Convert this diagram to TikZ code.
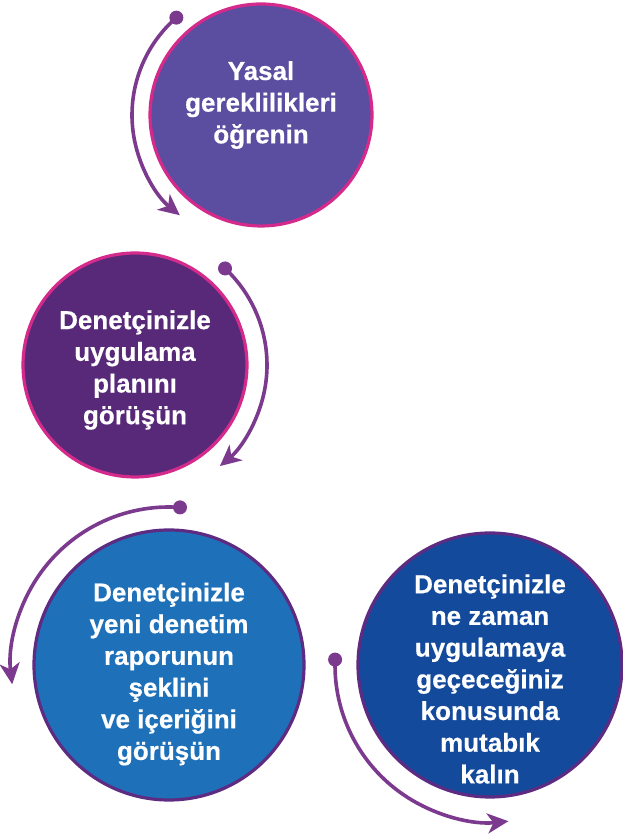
\documentclass[tikz,border=0pt]{standalone}
\usepackage{fontspec}
\setmainfont{Liberation Sans}[BoldFeatures={FakeBold=0.5}]
\usetikzlibrary{calc,arrows.meta}
\definecolor{lilac_fill}{HTML}{5B4DA0}
\definecolor{plum_fill}{HTML}{582978}
\definecolor{sky_fill}{HTML}{1E71B9}
\definecolor{navy_fill}{HTML}{134A9B}
\definecolor{pink_rim}{HTML}{D42A8B}
\definecolor{purple_rim}{HTML}{5E2B82}
\definecolor{arrow_purple}{HTML}{7C3A8F}

\begin{document}
\begin{tikzpicture}[x=1pt,y=1pt,>={Stealth[length=21pt,width=20pt,inset=6pt]},
    disc/.style={circle,draw,line width=3.2pt,minimum size=#1,inner sep=0pt},
    lbl/.style={text=white,align=center,font=\bfseries\fontsize{26}{31.7}\selectfont},
    turn/.style={arrow_purple,line width=3.6pt,->},
    knob/.style={circle,fill=arrow_purple,inner sep=0pt,minimum size=14pt}]

    \useasboundingbox (0,0) rectangle (623,837);

    % Les quatre disques
    \node[disc=222,fill=lilac_fill,draw=pink_rim] (c1) at (261,722) {};
    \node[disc=224,fill=plum_fill,draw=pink_rim] (c2) at (135,472) {};
    \node[disc=270,fill=sky_fill,draw=purple_rim] (c3) at (169,172) {};
    \node[disc=264,fill=navy_fill,draw=purple_rim] (c4) at (490,172) {};

    % Les textes
    \node[lbl] (t1) at ([yshift=10]c1.center) {Yasal\\gereklilikleri\\öğrenin};
    \node[lbl] (t2) at ([yshift=-5]c2.center) {Denetçinizle\\uygulama\\planını\\görüşün};
    \node[lbl] (t3) at ([yshift=-9]c3.center) {Denetçinizle\\yeni denetim\\raporunun\\şeklini\\ve içeriğini\\görüşün};
    \node[lbl] (t4) at ([yshift=-14]c4.center) {Denetçinizle\\ne zaman\\uygulamaya\\geçeceğiniz\\konusunda\\mutabık\\kalın};

    % Les points de départ des flèches
    \node[knob] (k1) at ($(c1.center)+(131:129)$) {};
    \node[knob] (k2) at ($(c2.center)+(47:132)$) {};
    \node[knob] (k3) at ($(c3.center)+(86:158)$) {};
    \node[knob] (k4) at ($(c4.center)+(178:155)$) {};

    % Les flèches courbes autour des disques
    \draw[turn] (k1.center) arc[start angle=131,end angle=231,radius=129];
    \draw[turn] (k2.center) arc[start angle=47,end angle=-50,radius=132];
    \draw[turn] (k3.center) arc[start angle=86,end angle=187,radius=158];
    \draw[turn] (k4.center) arc[start angle=178,end angle=276,radius=157];
\end{tikzpicture}
\end{document}
